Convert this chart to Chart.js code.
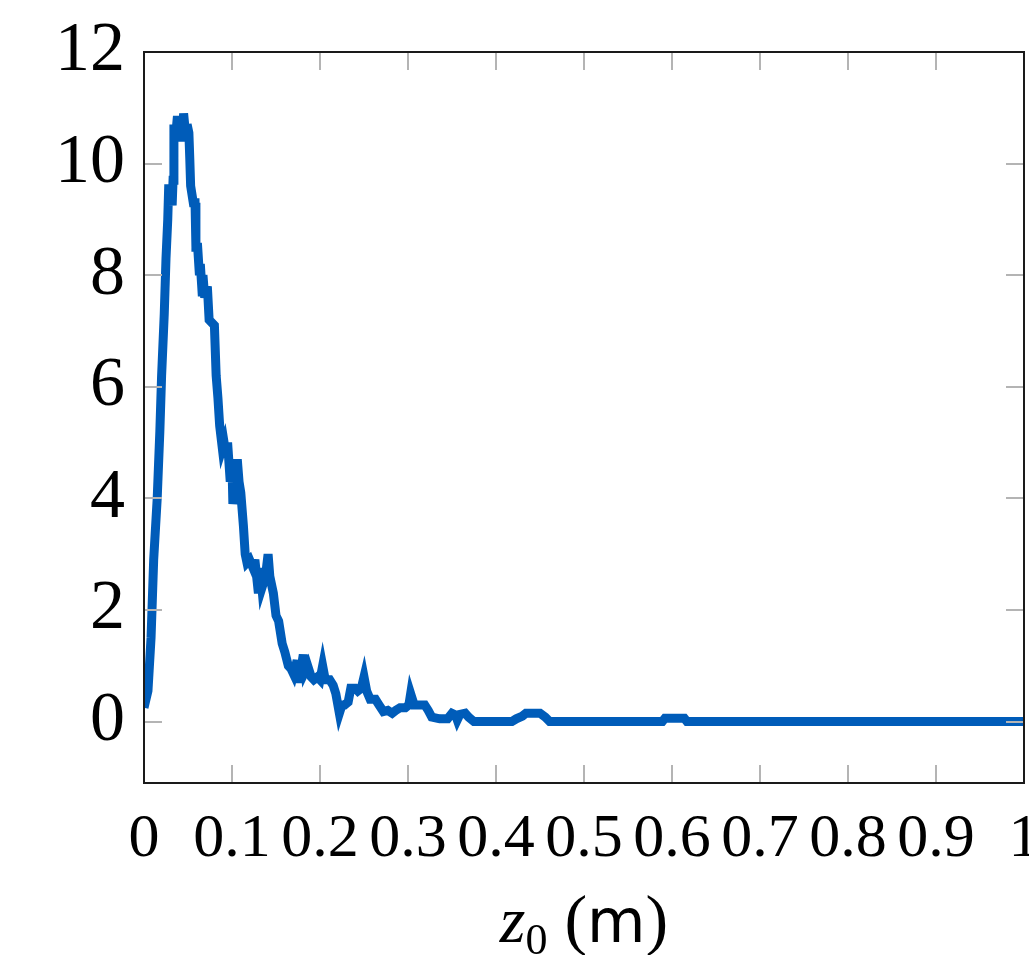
<!DOCTYPE html>
<html>
<head>
<meta charset="utf-8">
<script src="https://cdn.jsdelivr.net/npm/chart.js@4.4.1/dist/chart.umd.min.js"></script>
<style>
  html, body { margin: 0; padding: 0; background: #fff; }
  #wrap { width: 1029px; height: 955px; position: relative; }
</style>
</head>
<body>
<div id="wrap"><canvas id="chart"></canvas></div>
<script>
// z0 positions (m) and counts
const zVals = [
  0.000, 0.0045, 0.008, 0.011, 0.015, 0.018, 0.020, 0.023, 0.025, 0.027,
  0.028, 0.031, 0.032, 0.033, 0.034, 0.036, 0.038, 0.040, 0.042, 0.044,
  0.045, 0.048, 0.049, 0.051, 0.052, 0.053, 0.056, 0.058, 0.059, 0.061,
  0.063, 0.064, 0.066, 0.067, 0.069, 0.072, 0.074, 0.077, 0.080, 0.082,
  0.084, 0.086, 0.089, 0.091, 0.093, 0.095, 0.098, 0.100, 0.101, 0.103,
  0.106, 0.108, 0.110, 0.113, 0.115, 0.117, 0.120, 0.124, 0.126, 0.130,
  0.132, 0.134, 0.138, 0.141, 0.143, 0.147, 0.150, 0.153, 0.157, 0.160,
  0.164, 0.167, 0.170, 0.174, 0.176, 0.178, 0.181, 0.183, 0.186, 0.190,
  0.193, 0.197, 0.200, 0.203, 0.206, 0.211, 0.215, 0.218, 0.222, 0.225,
  0.228, 0.232, 0.235, 0.240, 0.243, 0.247, 0.250, 0.253, 0.257, 0.263,
  0.267, 0.272, 0.277, 0.282, 0.286, 0.291, 0.297, 0.301, 0.303, 0.307,
  0.314, 0.319, 0.323, 0.327, 0.336, 0.345, 0.350, 0.354, 0.356, 0.359,
  0.365, 0.369, 0.375, 0.418, 0.423, 0.430, 0.434, 0.450, 0.456, 0.461,
  0.589, 0.592, 0.614, 0.617, 1.000
]
const countVals = [
  0.25, 0.55, 1.5, 2.9, 4.0, 5.2, 6.2, 7.3, 8.3, 9.0,
  9.55, 9.55, 9.25, 9.7, 10.7, 10.5, 10.85, 10.4, 10.8, 10.5,
  10.9, 10.4, 10.7, 10.55, 10.1, 9.6, 9.3, 9.3, 8.5, 8.5,
  8.0, 8.2, 7.7, 8.0, 7.6, 7.8, 7.2, 7.15, 7.1, 6.2,
  5.8, 5.3, 4.9, 5.0, 4.8, 5.0, 4.3, 4.6, 3.9, 4.2,
  4.7, 4.3, 4.1, 3.5, 3.0, 2.85, 2.9, 2.75, 2.9, 2.3,
  2.75, 2.4, 2.6, 3.0, 2.6, 2.3, 1.9, 1.8, 1.4, 1.25,
  1.0, 0.95, 0.85, 1.1, 0.7, 0.9, 1.2, 0.9, 1.0, 0.8,
  0.75, 0.8, 0.75, 1.0, 0.75, 0.75, 0.65, 0.5, 0.15, 0.3,
  0.3, 0.35, 0.6, 0.6, 0.55, 0.6, 0.8, 0.55, 0.4, 0.4,
  0.3, 0.18, 0.2, 0.15, 0.2, 0.25, 0.25, 0.3, 0.5, 0.3,
  0.3, 0.3, 0.2, 0.08, 0.05, 0.05, 0.15, 0.12, 0.03, 0.13,
  0.15, 0.08, 0.0, 0.0, 0.05, 0.1, 0.15, 0.15, 0.08, 0.0,
  0.0, 0.06, 0.06, 0.0, 0.0
]
const xTicks = [0, 0.1, 0.2, 0.3, 0.4, 0.5, 0.6, 0.7, 0.8, 0.9, 1]
const xTickLabels = ["0", "0.1", "0.2", "0.3", "0.4", "0.5", "0.6", "0.7", "0.8", "0.9", "1"]
const yTicks = [0, 2, 4, 6, 8, 10, 12]
const yTickLabels = ["0", "2", "4", "6", "8", "10", "12"]

const SERIF = "'Liberation Serif', 'DejaVu Serif', serif"
const tickGrey = "#b4b4b4"

// frame round the plot and inward tick marks, like pgfplots
const framePlugin = {
  id: "frame",
  beforeDatasetsDraw(chart) {
    chart.ctx.miterLimit = 6
  },
  afterDatasetsDraw(chart) {
    const { ctx, chartArea: a, scales } = chart
    ctx.miterLimit = 10
    const len = 18
    ctx.save()
    ctx.strokeStyle = tickGrey
    ctx.lineWidth = 2
    ctx.beginPath()
    scales.x.ticks.forEach(t => {
      const px = Math.round(scales.x.getPixelForValue(t.value))
      ctx.moveTo(px, a.bottom); ctx.lineTo(px, a.bottom - len)
      ctx.moveTo(px, a.top); ctx.lineTo(px, a.top + len)
    })
    scales.y.ticks.forEach(t => {
      const py = Math.round(scales.y.getPixelForValue(t.value))
      ctx.moveTo(a.left, py); ctx.lineTo(a.left + len, py)
      ctx.moveTo(a.right, py); ctx.lineTo(a.right - len, py)
    })
    ctx.stroke()
    ctx.strokeStyle = "#1a1a1a"
    ctx.lineWidth = 2
    ctx.strokeRect(a.left, a.top, a.right - a.left, a.bottom - a.top)
    ctx.restore()
  },
  afterDraw(chart) {
    // axis label "z0 (m)" : italic z, subscript 0, sans m
    const { ctx, chartArea: a } = chart
    const base = 942
    const parts = [
      { t: "z", f: "italic 66px " + SERIF, dy: 0 },
      { t: "0", f: "44px " + SERIF, dy: 12 },
      { t: " (", f: "68px " + SERIF, dy: 0 },
      { t: "m", f: "60px 'DejaVu Sans', 'Liberation Sans', sans-serif", dy: 0 },
      { t: ")", f: "68px " + SERIF, dy: 0 }
    ]
    ctx.save()
    ctx.fillStyle = "#000"
    ctx.textBaseline = "alphabetic"
    let total = 0
    parts.forEach(p => { ctx.font = p.f; p.w = ctx.measureText(p.t).width; total += p.w })
    let x = (a.left + a.right) / 2 - total / 2
    parts.forEach(p => { ctx.font = p.f; ctx.fillText(p.t, x, base + p.dy); x += p.w })
    ctx.restore()
  }
}

new Chart(document.getElementById("chart"), {
  type: "line",
  data: {
    datasets: [{
      data: zVals.map((z, i) => ({ x: z, y: countVals[i] })),
      borderColor: "#005cb9",
      borderWidth: 9,
      pointRadius: 0,
      tension: 0,
      borderJoinStyle: "miter"
    }]
  },
  options: {
    responsive: true,
    maintainAspectRatio: false,
    animation: false,
    layout: { padding: { top: 52, right: 5, left: 0, bottom: 0 } },
    plugins: { legend: { display: false }, tooltip: { enabled: false } },
    scales: {
      x: {
        type: "linear",
        min: 0,
        max: 1,
        afterBuildTicks: s => { s.ticks = xTicks.map(v => ({ value: v })) },
        afterFit: s => { s.height = 172; s.paddingLeft = 0; s.paddingRight = 0 },
        grid: { display: false, drawTicks: false },
        border: { display: false },
        ticks: {
          autoSkip: false,
          maxRotation: 0,
          padding: 20,
          color: "#000",
          font: { family: SERIF, size: 62 },
          callback: (v, i) => xTickLabels[i]
        }
      },
      y: {
        min: -1.1,
        max: 12,
        afterBuildTicks: s => { s.ticks = yTicks.map(v => ({ value: v })) },
        afterFit: s => { s.width = 144; s.paddingTop = 0; s.paddingBottom = 0 },
        grid: { display: false, drawTicks: false },
        border: { display: false },
        ticks: {
          padding: 19,
          color: "#000",
          font: { family: SERIF, size: 70 },
          callback: (v, i) => yTickLabels[i]
        }
      }
    }
  },
  plugins: [framePlugin]
})
</script>
</body>
</html>
